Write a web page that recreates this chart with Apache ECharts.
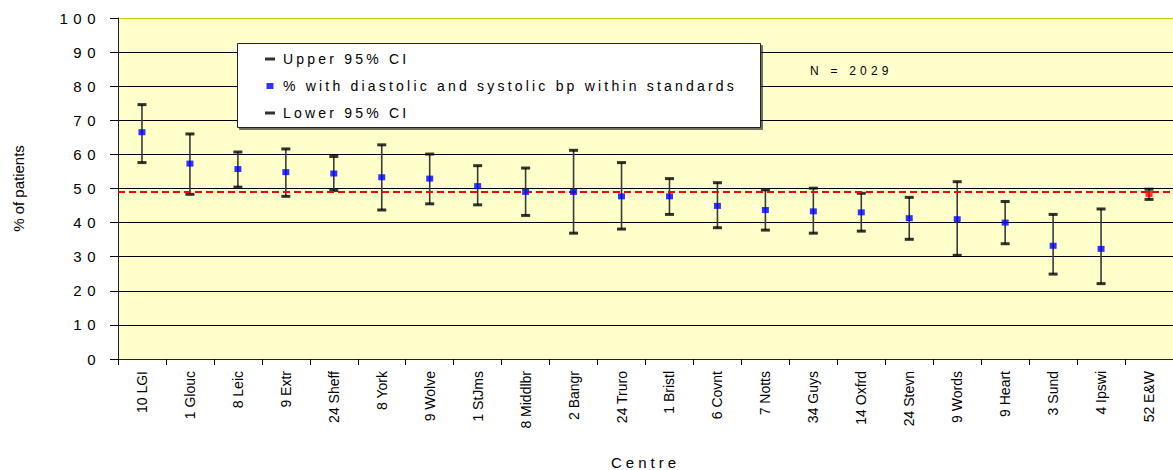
<!DOCTYPE html>
<html><head><meta charset="utf-8">
<script src="https://cdn.jsdelivr.net/npm/echarts@6/dist/echarts.min.js"></script>
<style>
html,body{margin:0;padding:0;background:#fff;}
#chart{width:1173px;height:470px;}
#chart text[style*="sp32"]{letter-spacing:3.2px;}
#chart text[style*="sp55"]{letter-spacing:5.5px;}
#chart text[style*="sp45"]{letter-spacing:4.2px;}
#chart text[style*="sp40"]{letter-spacing:4px;}
</style></head><body><div id="chart"></div>
<script>
const categories = ['10 LGI','1 Glouc','8 Leic','9 Extr','24 Sheff','8 York','9 Wolve','1 StJms','8 Middlbr','2 Bangr','24 Truro','1 Bristl','6 Covnt','7 Notts','34 Guys','14 Oxfrd','24 Stevn','9 Words','9 Heart','3 Sund','4 Ipswi','52 E&W'];
const upperCI = [74.6, 66.0, 60.7, 61.6, 59.4, 62.8, 60.1, 56.7, 56.0, 61.2, 57.6, 52.9, 51.7, 49.6, 50.1, 48.6, 47.4, 52.0, 46.2, 42.4, 44.0, 49.8];
const pctWithin = [66.5, 57.3, 55.7, 54.8, 54.4, 53.3, 52.9, 50.7, 49.0, 49.0, 47.7, 47.7, 44.9, 43.7, 43.3, 43.0, 41.3, 41.0, 40.0, 33.2, 32.3, 48.4];
const lowerCI = [57.6, 48.3, 50.4, 47.7, 49.4, 43.7, 45.5, 45.2, 42.1, 36.9, 38.1, 42.4, 38.5, 37.8, 36.9, 37.5, 35.1, 30.4, 33.8, 24.9, 22.1, 46.8];
const nationalLine = 49.1;
const yTicks = [0, 100, 10];
const seriesNames = ['Upper 95% CI', '% with diastolic and systolic bp within standards', 'Lower 95% CI'];
const xTitle = 'Centre';
const yTitle = '% of patients';
const nText = 'N = 2029';

const chart = echarts.init(document.getElementById('chart'), null, {renderer: 'svg', width: 1173, height: 470});
const dashIcon = 'path://M0,0L0,0M0,1.5h10v3h-10zM10,6L10,6';
const sqIcon = 'path://M0,0L0,0M1.5,0h7v6h-7zM10,6L10,6';
const lastIdx = categories.length - 1;
const gridColors = ['#000','#000','#000','#000','#000','#000','#000','#000','#000','#000','#D0D000'];

const option = {
  animation: false,
  backgroundColor: '#ffffff',
  grid: {left: 118, right: 0, top: 18, bottom: 111, show: true, backgroundColor: '#FFFFCC', borderWidth: 0, containLabel: false, outerBoundsMode: 'none'},
  xAxis: {
    type: 'category', data: categories, boundaryGap: true,
    name: xTitle, nameLocation: 'middle', nameGap: 96,
    nameTextStyle: {fontSize: 15, color: '#000', fontFamily: 'Liberation Sans, sp40'},
    axisLine: {lineStyle: {color: '#222', width: 1}},
    axisTick: {show: true, length: 6, lineStyle: {color: '#000'}},
    axisLabel: {rotate: 90, interval: 0, fontSize: 14, color: '#000', margin: 12, fontFamily: 'Liberation Sans'},
    splitLine: {show: false}
  },
  yAxis: {
    type: 'value', min: yTicks[0], max: yTicks[1], interval: yTicks[2],
    name: yTitle, nameLocation: 'middle', nameGap: 92,
    nameTextStyle: {fontSize: 15, color: '#000', fontFamily: 'Liberation Sans'},
    axisLine: {show: true, lineStyle: {color: '#222', width: 1}},
    axisTick: {show: true, length: 8, lineStyle: {color: '#000'}},
    axisLabel: {fontSize: 15, color: '#000', margin: 17, fontFamily: 'Liberation Sans, sp55'},
    splitLine: {show: true, lineStyle: {color: gridColors, width: 1}}
  },
  legend: {
    orient: 'vertical', left: 265, top: 52, padding: 0, itemGap: 13,
    itemWidth: 10, itemHeight: 6, selectedMode: false, z: 6,
    data: [{name: seriesNames[0], icon: dashIcon}, {name: seriesNames[1], icon: sqIcon}, {name: seriesNames[2], icon: dashIcon}],
    textStyle: {fontSize: 14, color: '#000', lineHeight: 14, fontFamily: 'Liberation Sans, sp32', padding: [0, 0, 0, 3]}
  },
  graphic: [
    {type: 'rect', left: 237, top: 43, z: 4, shape: {width: 523, height: 84},
     style: {fill: '#fff', stroke: '#222', lineWidth: 1, shadowColor: 'rgba(0,0,0,0.55)', shadowOffsetX: 2, shadowOffsetY: 2, shadowBlur: 0}},
    {type: 'text', left: 810, top: 65, z: 4,
     style: {text: nText, fontSize: 12, fill: '#000', fontFamily: 'Liberation Sans, sp45'}}
  ],
  series: [
    {
      type: 'custom', name: 'ci', z: 1,
      data: categories.map((c, i) => [i, lowerCI[i], upperCI[i]]),
      renderItem: function (params, api) {
        const lo = api.coord([api.value(0), api.value(1)]);
        const hi = api.coord([api.value(0), api.value(2)]);
        return {type: 'line', shape: {x1: lo[0], y1: lo[1], x2: hi[0], y2: hi[1]}, style: {stroke: '#3a3a3a', lineWidth: 1.6}};
      },
      markLine: {
        silent: true, symbol: ['none', 'none'], label: {show: false}, z: 5,
        lineStyle: {color: '#FF0000', type: [7, 4], width: 2},
        emphasis: {disabled: true},
        data: [{yAxis: nationalLine}]
      }
    },
    {type: 'scatter', name: seriesNames[0], data: upperCI, symbol: 'rect', symbolSize: [9, 3], itemStyle: {color: '#000'}, z: 3},
    {type: 'scatter', name: seriesNames[2], data: lowerCI, symbol: 'rect', symbolSize: [9, 3], itemStyle: {color: '#000'}, z: 3},
    {type: 'scatter', name: seriesNames[1], symbol: 'rect', symbolSize: [7, 6], itemStyle: {color: '#0000FF'}, z: 6,
     data: pctWithin.map((v, i) => i === lastIdx ? {value: v, itemStyle: {color: '#FF0000'}} : v)}
  ]
};
chart.setOption(option);
</script></body></html>
